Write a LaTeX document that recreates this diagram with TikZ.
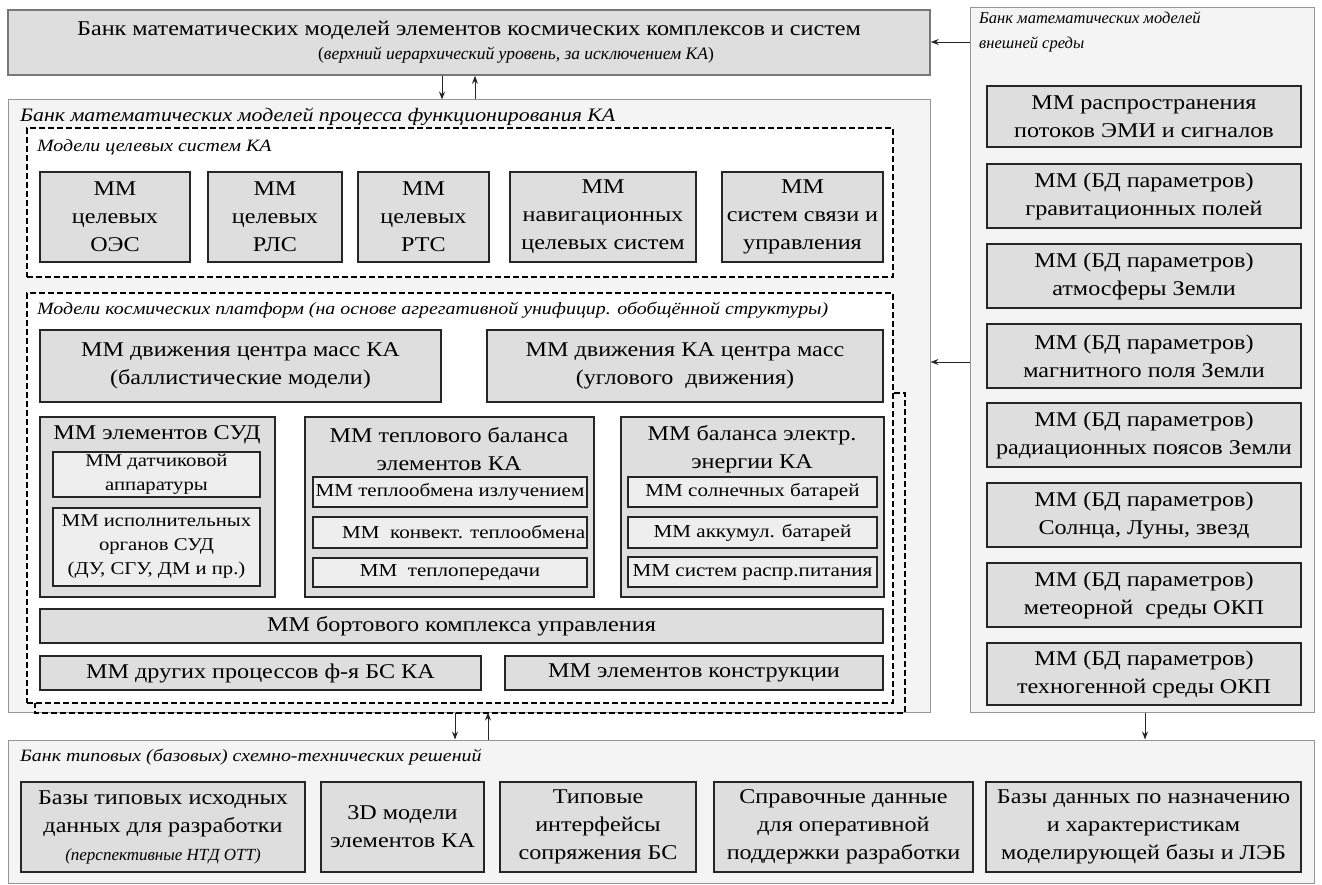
\documentclass[tikz,border=0pt]{standalone}
\usepackage{fontspec}
\setmainfont{Liberation Serif}[FakeStretch=1.15]
\newfontfamily\plainfam{Liberation Serif}
\usetikzlibrary{arrows.meta}
\definecolor{boxfill}{RGB}{222,222,222}
\definecolor{contfill}{RGB}{244,244,244}
\definecolor{contdraw}{RGB}{150,150,150}
\definecolor{subfill}{RGB}{238,238,238}
\newcommand\mmfont{\fontsize{21}{28}\selectfont}
\newcommand\subfnt{\fontsize{18.3}{23}\selectfont}
\newcommand\sudfnt{\fontsize{18}{24}\selectfont}
\newcommand\lblfnt{\fontsize{17.3}{25}\selectfont\itshape}
\newcommand\bx[7]{\node[#6, minimum width={(#4-#2)*1pt}, minimum height={(#5-#3)*1pt}] (#1) at ({(#2+#4)/2},{(#3+#5)/2}) {#7};}
\tikzset{
  cont/.style={draw=contdraw, fill=contfill, line width=1pt, inner sep=0pt},
  topb/.style={draw=contdraw!80!black, fill=boxfill, line width=1.5pt, inner sep=0pt, align=center},
  mm/.style={draw=black!85, line width=2.6pt, fill=boxfill, inner sep=0pt, align=center, font=\mmfont},
  sub/.style={draw=black!85, line width=1.6pt, fill=subfill, inner sep=0pt, align=center, font=\subfnt},
  sudsub/.style={sub, font=\sudfnt},
  dbox/.style={draw=black, line width=2pt, dash pattern=on 6pt off 3pt, fill=white, inner sep=0pt},
  dline/.style={draw=black, line width=2pt, dash pattern=on 6pt off 3pt},
  lbl/.style={anchor=west, inner sep=0pt, font=\lblfnt},
  ttl/.style={inner sep=0pt, align=center, font=\mmfont},
  arr/.style={-{Stealth[length=8pt,width=6pt]}, line width=0.9pt, draw=black!85}
}
\begin{document}
\begin{tikzpicture}[x=1pt,y=-1pt]
\useasboundingbox (0,0) rectangle (1322,885);
% containers
\bx{top}{8}{10}{930}{75}{topb}{}
\node[inner sep=0pt, font=\mmfont] (topT1) at (469,30) {Банк математических моделей элементов космических комплексов и систем};
\node[inner sep=0pt, font={\plainfam\fontsize{17.5}{20}\selectfont}] (topT2) at (516,55) {(\textit{верхний иерархический уровень, за исключением КА})};
\bx{env}{970}{8}{1314}{712}{cont}{}
\node[lbl, anchor=north west, align=left, font={\plainfam\fontsize{16.5}{25}\selectfont\itshape}] (envL) at (979,12) {Банк математических моделей\\внешней среды};
\bx{proc}{8}{100}{930}{712}{cont}{}
\node[lbl, font={\fontsize{19}{22}\selectfont\itshape}] (procL) at (20,117) {Банк математических моделей процесса функционирования КА};
\bx{typ}{8}{740}{1314}{883}{cont}{}
\node[lbl] (typL) at (20,757) {Банк типовых (базовых) схемно-технических решений};
% dashed groups
\bx{tgt}{27}{128}{893}{277}{dbox}{}
\node[lbl] (tgtL) at (37,147) {Модели целевых систем КА};
\bx{plat}{27}{293}{893}{703}{dbox}{}
\draw[dline] (plat.east |- 0,393) -- (905,393) -- (905,713) -- (35,713) -- (35,703);
\node[lbl] (platL) at (37,310) {Модели космических платформ (на основе агрегативной унифицир. обобщённой структуры)};
% target systems
\bx{t1}{40}{172}{190}{262}{mm}{ММ\\целевых\\ОЭС}
\bx{t2}{208}{172}{342}{262}{mm}{ММ\\целевых\\РЛС}
\bx{t3}{358}{172}{489}{262}{mm}{ММ\\целевых\\РТС}
\bx{t4}{510}{172}{696}{262}{mm}{ММ\\навигационных\\целевых систем}
\bx{t5}{722}{172}{883}{262}{mm}{ММ\\систем связи и\\управления}
% platforms
\bx{p1}{40}{330}{441}{402}{mm}{ММ движения центра масс КА\\(баллистические модели)}
\bx{p2}{487}{330}{883}{402}{mm}{ММ движения КА центра масс\\(углового\ \ движения)}
\bx{sud}{40}{417}{275}{597}{mm}{}
\node[ttl] (sudT) at (157,435) {ММ элементов СУД};
\bx{sud1}{53}{452}{260}{497}{sudsub}{ММ датчиковой\\аппаратуры}
\bx{sud2}{53}{508}{260}{586}{sudsub}{ММ исполнительных\\органов СУД\\(ДУ, СГУ, ДМ и пр.)}
\bx{thm}{305}{417}{594}{597}{mm}{}
\node[ttl] (thmT) at (449,449) {ММ теплового баланса\\элементов КА};
\bx{thm1}{313}{477}{587}{507}{sub}{ММ теплообмена излучением}
\bx{thm2}{313}{517}{587}{548}{sub}{\hspace{1.5em}ММ\ \ конвект. теплообмена}
\bx{thm3}{313}{558}{587}{587}{sub}{ММ\ \ теплопередачи}
\bx{el}{621}{417}{884}{597}{mm}{}
\node[ttl] (elT) at (752,449) {ММ баланса электр.\\энергии КА};
\bx{el1}{628}{477}{877}{507}{sub}{ММ солнечных батарей}
\bx{el2}{628}{517}{877}{548}{sub}{ММ аккумул. батарей}
\bx{el3}{628}{557}{877}{587}{sub}{ММ систем распр.питания}
\bx{bku}{40}{609}{883}{643}{mm}{ММ бортового комплекса управления}
\bx{oth}{40}{656}{481}{690}{mm}{ММ других процессов ф-я БС КА}
\bx{kon}{505}{656}{883}{690}{mm}{ММ элементов конструкции}
% environment
\bx{e1}{987}{86}{1301}{147}{mm}{ММ распространения\\потоков ЭМИ и сигналов}
\bx{e2}{987}{164}{1301}{228}{mm}{ММ (БД параметров)\\гравитационных полей}
\bx{e3}{987}{244}{1301}{308}{mm}{ММ (БД параметров)\\атмосферы Земли}
\bx{e4}{987}{324}{1301}{388}{mm}{ММ (БД параметров)\\магнитного поля Земли}
\bx{e5}{987}{403}{1301}{467}{mm}{ММ (БД параметров)\\радиационных поясов Земли}
\bx{e6}{987}{483}{1301}{547}{mm}{ММ (БД параметров)\\Солнца, Луны, звезд}
\bx{e7}{987}{563}{1301}{627}{mm}{ММ (БД параметров)\\метеорной\ \ среды ОКП}
\bx{e8}{987}{643}{1301}{705}{mm}{ММ (БД параметров)\\техногенной среды ОКП}
% typical solutions
\bx{b1}{21}{782}{305}{872}{mm}{Базы типовых исходных\\данных для разработки\\{\plainfam\fontsize{17}{20}\selectfont\itshape(перспективные НТД ОТТ)}}
\bx{b2}{321}{782}{484}{872}{mm}{3D модели\\элементов КА}
\bx{b3}{500}{782}{696}{872}{mm}{Типовые\\интерфейсы\\сопряжения БС}
\bx{b4}{714}{782}{973}{872}{mm}{Справочные данные\\для оперативной\\поддержки разработки}
\bx{b5}{986}{782}{1301}{872}{mm}{Базы данных по назначению\\и характеристикам\\моделирующей базы и ЛЭБ}
% connectors
\coordinate (xa) at (442,0);
\coordinate (xb) at (475,0);
\coordinate (xc) at (455,0);
\coordinate (xd) at (488,0);
\coordinate (xe) at (1145,0);
\coordinate (ya) at (0,42);
\coordinate (yb) at (0,362);
\draw[arr] (top.south -| xa) -- (proc.north -| xa);
\draw[arr] (proc.north -| xb) -- (top.south -| xb);
\draw[arr] (proc.south -| xc) -- (typ.north -| xc);
\draw[arr] (typ.north -| xd) -- (proc.south -| xd);
\draw[arr] (env.south -| xe) -- (typ.north -| xe);
\draw[arr] (env.west |- ya) -- (top.east |- ya);
\draw[arr] (env.west |- yb) -- (proc.east |- yb);
\end{tikzpicture}
\end{document}
